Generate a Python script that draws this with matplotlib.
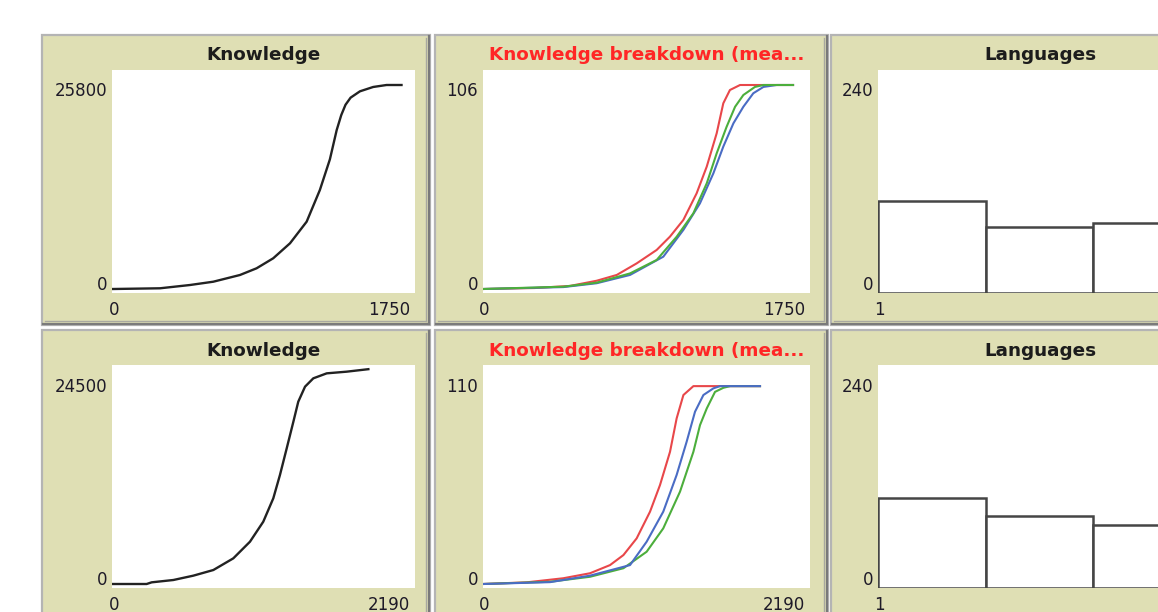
import matplotlib
matplotlib.use("Agg")
import matplotlib.pyplot as plt
from matplotlib.patches import Rectangle
from matplotlib.lines import Line2D

W, H = 1158, 612

# ---------------- data ----------------
# Run 1
k1_ticks = [0, 277, 454, 591, 748, 846, 944, 1043, 1141, 1219, 1278, 1318, 1345,
            1370, 1400, 1455, 1533, 1612, 1700]
k1_values = [0, 90, 506, 923, 1771, 2619, 3884, 5781, 8513, 12524, 16400, 20100,
             22000, 23300, 24200, 25000, 25550, 25800, 25800]

b1_red_ticks = [0, 280, 473, 618, 727, 835, 944, 1016, 1089, 1161, 1216, 1270,
                1306, 1342, 1397, 1578, 1685]
b1_red = [0, 0.5, 1.6, 4.3, 7.3, 13.3, 20.3, 27.2, 35.9, 49.7, 63.6, 80.9, 96.5,
          103.4, 106, 106, 106]
b1_blue_ticks = [0, 437, 618, 799, 980, 1089, 1179, 1252, 1306, 1361, 1415, 1469,
                 1524, 1596, 1685]
b1_blue = [0, 1.0, 3.0, 7.3, 16.8, 30.7, 44.5, 60.1, 74, 86.1, 94.7, 101.7, 105,
           106, 106]
b1_green_ticks = [0, 437, 618, 799, 944, 1053, 1143, 1216, 1270, 1324, 1370, 1415,
                  1478, 1524, 1685]
b1_green = [0, 1.2, 3.3, 8.1, 15.1, 27.2, 39.3, 54.9, 70.5, 84.3, 94.7, 100.8,
            105, 106, 106]

lang_bins = [1, 2, 3]
lang1_counts = [103.5, 73.3, 77.3]

# Run 2
k2_ticks = [0, 248, 285, 445, 592, 740, 887, 1010, 1108, 1182, 1231, 1281, 1330,
            1366, 1416, 1477, 1576, 1723, 1883]
k2_values = [0, 0, 200, 480, 1000, 1680, 3080, 5080, 7480, 10290, 13090, 16300,
             19490, 21890, 23700, 24700, 25300, 25500, 25800]

b2_red_ticks = [0, 297, 546, 728, 864, 955, 1045, 1136, 1204, 1272, 1317, 1363,
                1431, 1884]
b2_red = [0, 0.9, 3.1, 5.8, 10.2, 15.6, 24.6, 39, 53.4, 71.3, 89.3, 101.9, 106.7,
          106.7]
b2_blue_ticks = [0, 456, 728, 1000, 1113, 1226, 1317, 1385, 1442, 1499, 1567,
                 1612, 1884]
b2_blue = [0, 1.0, 4.5, 10.2, 22.8, 39, 58.8, 76.7, 92.9, 101.9, 105.5, 106.7,
           106.7]
b2_green_ticks = [0, 456, 728, 955, 1113, 1226, 1340, 1431, 1476, 1522, 1578,
                  1635, 1681, 1884]
b2_green = [0, 1.2, 3.9, 8.5, 17.4, 30, 49.8, 71.3, 85.7, 94.7, 103.6, 105.8,
            106.7, 106.7]

lang2_counts = [100.8, 80.3, 69.4]

# Axis ranges shown on each plot
k1_range = (0, 1750, 0, 25800)
b1_range = (0, 1750, 0, 106)
l1_range = (1, 4, 0, 240)
k2_range = (0, 2190, 0, 24500)
b2_range = (0, 2190, 0, 110)
l2_range = (1, 4, 0, 240)

# ---------------- style ----------------
KHAKI = "#dfdfb4"
TXT = "#1e1a28"
RED = "#e8474a"
BLUE = "#4a6cc4"
GREEN = "#4cae3c"
BLACK = "#222222"

fig = plt.figure(figsize=(W / 100, H / 100), dpi=100)
fig.patch.set_facecolor("white")


def fig_rect(x0, y0, x1, y1, **kw):
    r = Rectangle((x0 / W, 1 - y1 / H), (x1 - x0) / W, (y1 - y0) / H,
                  transform=fig.transFigure, zorder=-3, **kw)
    fig.add_artist(r)


def fig_line(xs, ys, **kw):
    fig.add_artist(Line2D([x / W for x in xs], [1 - y / H for y in ys],
                          transform=fig.transFigure, zorder=-2, **kw))


def frame(x0, y0, x1, y1):
    fig_rect(x0, y0, x1, y1, facecolor=KHAKI, edgecolor="#b4b4b4", lw=1.6)
    fig_line([x1 - 1, x1 - 1], [y0 + 1, y1 - 1], color="#7a7a7a", lw=1.6)
    fig_line([x0 + 1, x1 - 1], [y1 - 1, y1 - 1], color="#7a7a7a", lw=1.6)
    fig_line([x1 - 4, x1 - 4], [y0 + 3, y1 - 4], color="#a8a8a0", lw=1.0)
    fig_line([x0 + 3, x1 - 4], [y1 - 4, y1 - 4], color="#a8a8a0", lw=1.0)


def plot_axes(box, graph, rng):
    wx0, wy0, wx1, wy1 = box
    gx0, gx1, gy0, gy1 = graph
    xmin, xmax, ymin, ymax = rng
    ax = fig.add_axes([wx0 / W, 1 - wy1 / H, (wx1 - wx0) / W, (wy1 - wy0) / H])
    ax.set_facecolor("white")
    for s in ax.spines.values():
        s.set_visible(False)
    ax.set_xticks([])
    ax.set_yticks([])
    sx = (xmax - xmin) / (gx1 - gx0)
    sy = (ymax - ymin) / (gy0 - gy1)
    ax.set_xlim(xmin - (gx0 - wx0) * sx, xmax + (wx1 - gx1) * sx)
    ax.set_ylim(ymin - (wy1 - gy0) * sy, ymax + (gy1 - wy0) * sy)
    return ax


def range_labels(ax, rng, show_xmax=True):
    xmin, xmax, ymin, ymax = rng
    kw = dict(textcoords="offset pixels", fontsize=12, color=TXT,
              annotation_clip=False)
    ytr = ax.get_yaxis_transform()
    xtr = ax.get_xaxis_transform()
    ax.annotate(f"{ymax}", xy=(0, ymax), xycoords=ytr, xytext=(-5, -11.5),
                ha="right", va="baseline", **kw)
    ax.annotate(f"{ymin}", xy=(0, ymin), xycoords=ytr, xytext=(-5, -1),
                ha="right", va="baseline", **kw)
    ax.annotate(f"{xmin}", xy=(xmin, 0), xycoords=xtr, xytext=(1, -22),
                ha="center", va="baseline", **kw)
    if show_xmax:
        ax.annotate(f"{xmax}", xy=(xmax, 0), xycoords=xtr, xytext=(0, -22),
                    ha="right", va="baseline", **kw)


def title(cx, base, text, color):
    fig.text(cx / W, 1 - base / H, text, ha="center", va="baseline",
             fontsize=13.2, fontweight="bold", color=color)


cols = [(42, 430), (435, 828), (831, 1226)]
rows = [(35, 325), (330, 620)]

runs = [
    dict(k=(k1_ticks, k1_values), krng=k1_range,
         b=[(b1_red_ticks, b1_red, RED), (b1_blue_ticks, b1_blue, BLUE),
            (b1_green_ticks, b1_green, GREEN)], brng=b1_range,
         lang=lang1_counts, lrng=l1_range),
    dict(k=(k2_ticks, k2_values), krng=k2_range,
         b=[(b2_red_ticks, b2_red, RED), (b2_green_ticks, b2_green, GREEN),
            (b2_blue_ticks, b2_blue, BLUE)], brng=b2_range,
         lang=lang2_counts, lrng=l2_range),
]

for r, run in enumerate(runs):
    off = 295 * r
    ry0, ry1 = rows[r]
    for cx0, cx1 in cols:
        frame(cx0, ry0, cx1, ry1)

    wy0, wy1 = 70 + off, 293 + off
    gy0, gy1 = 289 + off, 85 + off
    tb = 60.5 + off

    # Knowledge
    ax = plot_axes((112, wy0, 415, wy1), (113, 410, gy0, gy1), run["krng"])
    ax.plot(run["k"][0], run["k"][1], color=BLACK, lw=1.7,
            solid_joinstyle="round")
    range_labels(ax, run["krng"])
    title(263.5, tb, "Knowledge", "#1c1c1c")

    # Knowledge breakdown
    ax = plot_axes((483, wy0, 810, wy1), (483, 805, gy0, gy1), run["brng"])
    for xs, ys, c in run["b"]:
        ax.plot(xs, ys, color=c, lw=1.5)
    range_labels(ax, run["brng"])
    title(646.5, tb, "Knowledge breakdown (mea...", "#ff2626")

    # Languages histogram
    rng = run["lrng"]
    ax = plot_axes((878, wy0, 1205, wy1), (878, 1201, gy0, gy1), rng)
    ylo = ax.get_ylim()[0]
    ax.bar(lang_bins, [v - ylo for v in run["lang"]], width=1, bottom=ylo,
           align="edge", facecolor="white", edgecolor="#454545", lw=1.8)
    range_labels(ax, rng, show_xmax=False)
    title(1040, tb, "Languages", "#1c1c1c")

fig.savefig("out.png", dpi=100, facecolor="white")
